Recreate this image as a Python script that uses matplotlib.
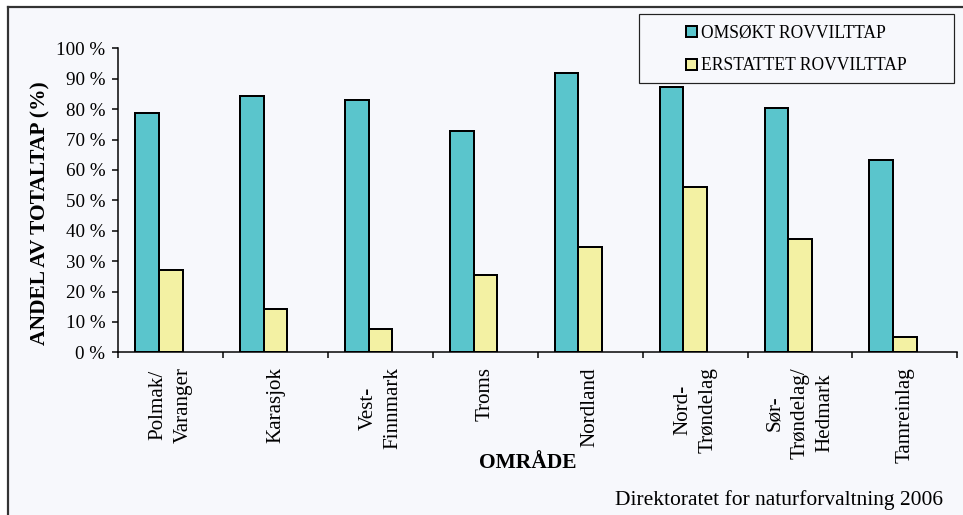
import matplotlib
matplotlib.use("Agg")
import matplotlib.pyplot as plt
from matplotlib.patches import Rectangle, Patch
from matplotlib.lines import Line2D

# Regions (areas) and shares of total loss (%)
areas = ["Polmak/\nVaranger", "Karasjok", "Vest-\nFinnmark", "Troms",
         "Nordland", "Nord-\nTrøndelag", "Sør-\nTrøndelag/\nHedmark", "Tamreinlag"]
omsokt = [78.8, 84.3, 83.0, 72.9, 92.0, 87.3, 80.2, 63.3]
erstattet = [27.1, 14.2, 7.7, 25.4, 34.6, 54.4, 37.4, 5.0]
series_names = ["OMSØKT ROVVILTTAP", "ERSTATTET ROVVILTTAP"]
y_ticks = list(range(0, 101, 10))
y_ticklabels = [f"{v} %" for v in y_ticks]

CYAN = "#5AC5CC"
YELLOW = "#F3F1A3"
BG = "#F7F8FC"
SERIF = "Liberation Serif"

W, H = 963, 515
DPI = 72
fig = plt.figure(figsize=(W / DPI, H / DPI), dpi=DPI)
fig.patch.set_facecolor("white")

def fx(px):
    return px / W

def fy(py):
    return 1 - py / H

# chart area background with its frame
fig.patches.append(Rectangle((fx(8), 0), 1 - fx(8), fy(7), transform=fig.transFigure,
                             facecolor=BG, edgecolor="none", zorder=-2))
fig.lines.append(Line2D([fx(8), fx(8)], [0, fy(7)], transform=fig.transFigure,
                        color="#333333", lw=2.2, zorder=-1))
fig.lines.append(Line2D([fx(8), 1], [fy(7), fy(7)], transform=fig.transFigure,
                        color="#333333", lw=2.2, zorder=-1))

# legend box
fig.patches.append(Rectangle((fx(639), fy(83)), fx(954) - fx(639), fy(14) - fy(83),
                             transform=fig.transFigure, facecolor=BG,
                             edgecolor="#222222", lw=1.2, zorder=-1))

ax = fig.add_axes([fx(118.3), fy(352.3), fx(957.3) - fx(118.3), fy(48.3) - fy(352.3)])
ax.set_facecolor("none")

bw = 0.225
x = list(range(len(areas)))
ax.bar([i - bw for i in x], omsokt, width=bw, color=CYAN, edgecolor="black",
       linewidth=2, label=series_names[0], zorder=3)
ax.bar(x, erstattet, width=bw, color=YELLOW, edgecolor="black",
       linewidth=2, label=series_names[1], zorder=3)

ax.set_xlim(-0.5, len(areas) - 0.5)
ax.set_ylim(0, 100)
for s in ["top", "right"]:
    ax.spines[s].set_visible(False)
for s in ["left", "bottom"]:
    ax.spines[s].set_linewidth(1.5)

ax.set_yticks(y_ticks)
ax.set_yticklabels(y_ticklabels, fontfamily=SERIF, fontsize=19)
ax.tick_params(axis="y", direction="out", length=6, width=1.5, pad=7)

ax.set_xticks([i - 0.5 for i in range(len(areas) + 1)])
ax.set_xticklabels([])
ax.tick_params(axis="x", which="major", direction="out", length=6, width=1.5)
ax.set_xticks(x, minor=True)
ax.set_xticklabels(areas, minor=True, rotation=90, fontfamily=SERIF, fontsize=21,
                   ha="center", va="top", multialignment="center", linespacing=1.45)
ax.tick_params(axis="x", which="minor", length=0, pad=15)

fig.text(fx(40), fy(213), "ANDEL AV TOTALTAP (%)", rotation=90, ha="center",
         va="center", fontfamily=SERIF, fontsize=21.5, fontweight="bold")
fig.text(fx(528), fy(463), "OMRÅDE", ha="center", va="center",
         fontfamily=SERIF, fontsize=21.5, fontweight="bold")
fig.text(fx(943), fy(500), "Direktoratet for naturforvaltning 2006", ha="right",
         va="center", fontfamily=SERIF, fontsize=21.5)

handles = [Patch(facecolor=CYAN, edgecolor="black", lw=2),
           Patch(facecolor=YELLOW, edgecolor="black", lw=2)]
leg = fig.legend(handles, series_names, loc="upper left",
                 bbox_to_anchor=(fx(672), fy(10.5)), frameon=False,
                 prop={"family": SERIF, "size": 17.5}, handlelength=0.6,
                 handleheight=0.6, handletextpad=0.25, labelspacing=0.9,
                 borderpad=0.3)

fig.savefig("out.png", dpi=DPI, facecolor=fig.get_facecolor())
